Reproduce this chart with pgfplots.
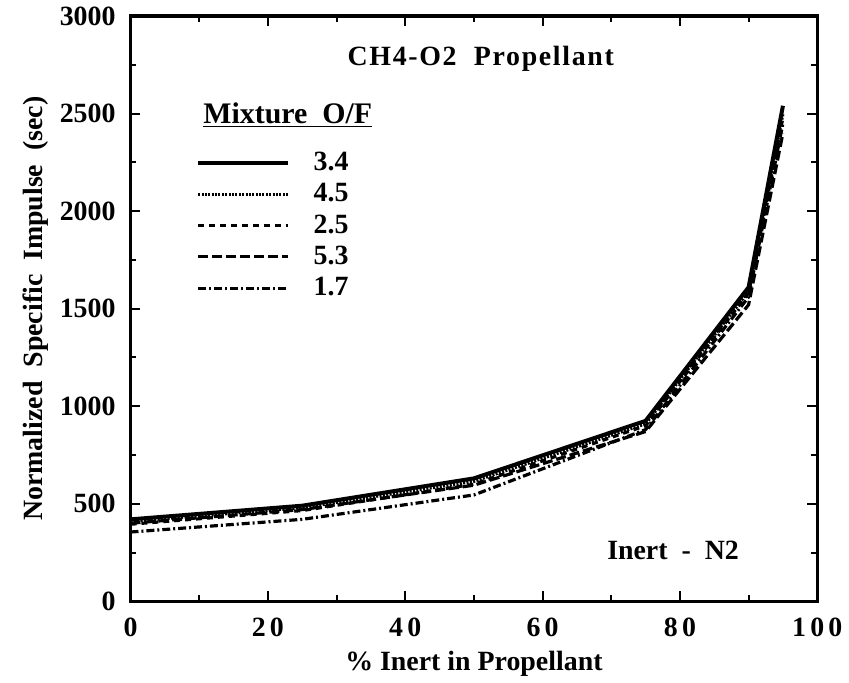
\documentclass[border=0pt]{standalone}
\usepackage{fontspec}
\setmainfont{Liberation Serif}
\usepackage{pgfplots}
\pgfplotsset{compat=1.18}

\begin{document}
\begin{tikzpicture}
\begin{axis}[
  scale only axis,
  width=345pt, height=294pt,
  xmin=0, xmax=100, ymin=0, ymax=3000,
  xtick={0,20,...,100}, minor xtick={10,30,...,90},
  ytick={0,500,...,3000}, minor ytick={250,750,...,2750},
  tick align=inside,
  major tick length=5pt, minor tick length=3pt,
  every tick/.style={black, line width=1pt},
  axis line style={line width=1.6pt},
  /pgf/number format/assume math mode=true,
  /pgf/number format/1000 sep={},
  tick label style={font=\bfseries\fontsize{14}{14}\selectfont},
  xticklabel style={yshift=-5pt, font=\bfseries\fontsize{14}{14}\selectfont\addfontfeature{LetterSpace=15}},
  yticklabel style={xshift=-4pt},
  xlabel={\% Inert in Propellant},
  ylabel={Normalized\ \ Specific\ \ Impulse\ \ (sec)},
  label style={font=\bfseries\fontsize{14}{14}\selectfont},
  xlabel style={yshift=0pt},
  ylabel style={yshift=-1pt},
  legend cell align=left,
  legend style={draw=none, fill=none, at={(0.095,0.775)}, anchor=north west,
    font=\bfseries\fontsize{14}{14}\selectfont,
    row sep=1pt, inner sep=0pt},
  legend image code/.code={\draw[#1] plot coordinates {(0pt,0pt) (45pt,0pt)};},
  every axis plot/.append style={line width=1.6pt, black},
]
\addplot[solid, line width=2pt] coordinates {(0,420) (25,490) (50,630) (75,925) (90,1610) (95,2540)};
\addlegendentry{\hspace{10pt}3.4}
\addplot[dash pattern=on 1pt off 0.7pt] coordinates {(0,410) (25,480) (50,615) (75,910) (90,1590) (95,2500)};
\addlegendentry{\hspace{10pt}4.5}
\addplot[dash pattern=on 3pt off 2.5pt] coordinates {(0,395) (25,465) (50,600) (75,900) (90,1580) (95,2480)};
\addlegendentry{\hspace{10pt}2.5}
\addplot[dash pattern=on 5pt off 2pt] coordinates {(0,400) (25,470) (50,595) (75,870) (90,1520) (95,2400)};
\addlegendentry{\hspace{10pt}5.3}
\addplot[dash pattern=on 4pt off 1.5pt on 1pt off 1.5pt] coordinates {(0,355) (25,420) (50,545) (75,880) (90,1560) (95,2450)};
\addlegendentry{\hspace{10pt}1.7}
\node[font=\bfseries\fontsize{14}{14}\selectfont\addfontfeature{LetterSpace=6}] at (axis cs:51,2780) {CH4-O2\ \ Propellant};
\node[font=\bfseries\fontsize{15}{15}\selectfont, anchor=west] at (axis cs:9.6,2490) {\underline{Mixture\ \ O/F}};
\node[font=\bfseries\fontsize{14}{14}\selectfont] at (axis cs:79,260) {Inert\ \ -\ \ N2};
\end{axis}
\path (current bounding box.west) ++(-8pt,0pt);
\end{tikzpicture}
\end{document}
